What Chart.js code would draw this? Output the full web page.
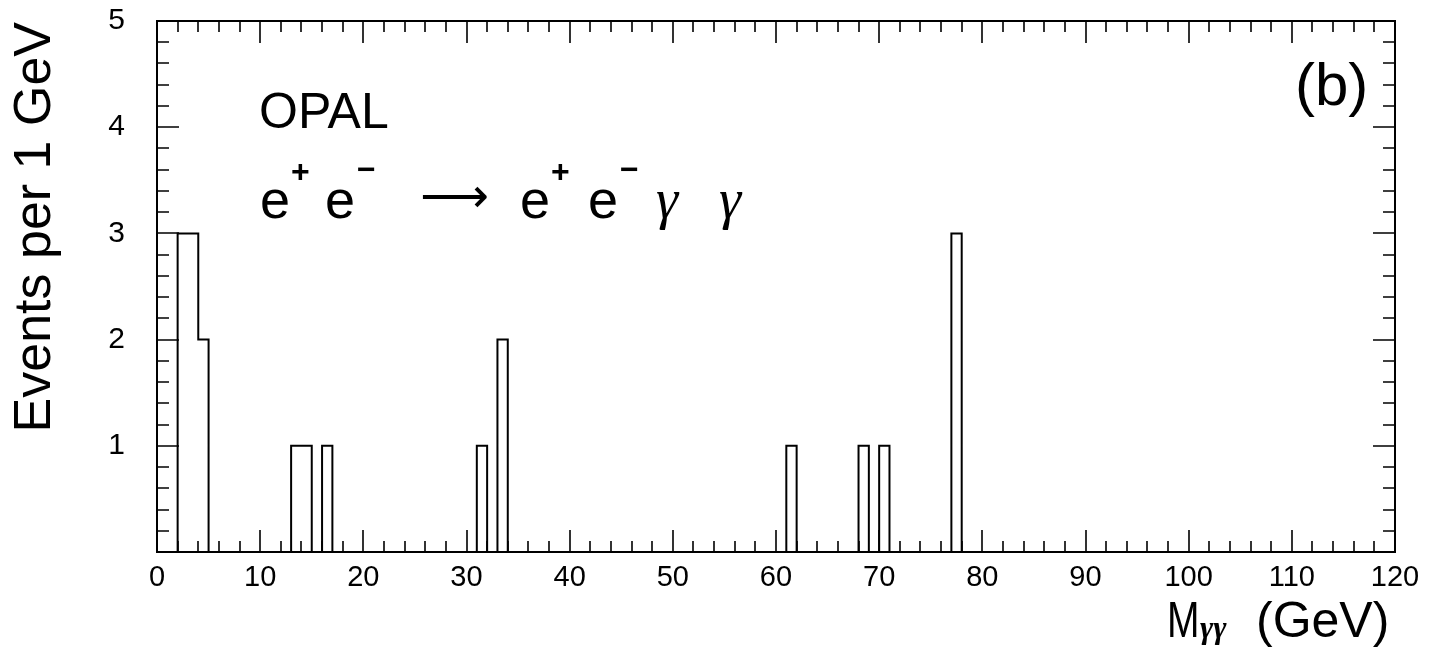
<!DOCTYPE html>
<html>
<head>
<meta charset="utf-8">
<script src="https://cdn.jsdelivr.net/npm/chart.js@4.4.1/dist/chart.umd.min.js"></script>
<style>
  html, body { margin: 0; background: #fff; }
  #wrap { width: 1444px; height: 656px; }
</style>
</head>
<body>
<div id="wrap"><canvas id="chart"></canvas></div>
<script>
// filled 1 GeV bins (lower edge) and the events in each
const binLow = [2, 3, 4, 13, 14, 16, 31, 33, 61, 68, 70, 77]
const events = [3, 3, 2, 1, 1, 1, 1, 2, 1, 1, 1, 3]

const xTicks = [0, 10, 20, 30, 40, 50, 60, 70, 80, 90, 100, 110, 120]
const yTicks = [1, 2, 3, 4, 5]
const xMinorStep = 2
const yMinorStep = 0.2

const X_MAX = 120
const SANS = '"Liberation Sans", Arial, Helvetica, sans-serif'
const SERIF = '"Liberation Serif", "Times New Roman", serif'

// histogram outline as a stepped line, one point per bin edge
const counts = {}
binLow.forEach((b, i) => { counts[b] = events[i] })
const outline = []
for (let b = 0; b < X_MAX; b++) outline.push({ x: b, y: counts[b] || 0 })
outline.push({ x: X_MAX, y: 0 })

const frameTicks = {
  id: 'frameTicks',
  afterDatasetsDraw(chart) {
    const { ctx, chartArea: a, scales: { x, y } } = chart
    ctx.save()
    ctx.strokeStyle = '#000'
    ctx.lineWidth = 2
    ctx.strokeRect(a.left, a.top, a.right - a.left, a.bottom - a.top)

    ctx.beginPath()
    for (let v = 0; v <= X_MAX + 1e-6; v += xMinorStep) {
      const px = Math.round(x.getPixelForValue(v))
      const len = xTicks.includes(Math.round(v)) ? 22 : 11
      ctx.moveTo(px, a.bottom); ctx.lineTo(px, a.bottom - len)
      ctx.moveTo(px, a.top); ctx.lineTo(px, a.top + len)
    }
    for (let v = 0; v <= 5 + 1e-6; v += yMinorStep) {
      const py = Math.round(y.getPixelForValue(v))
      const major = Math.abs(v - Math.round(v)) < 1e-6
      const len = major ? 22 : 12
      ctx.moveTo(a.left, py); ctx.lineTo(a.left + len, py)
      ctx.moveTo(a.right, py); ctx.lineTo(a.right - len, py)
    }
    ctx.lineWidth = 1.6
    ctx.stroke()
    ctx.restore()
  }
}

const labels = {
  id: 'labels',
  afterDraw(chart) {
    const { ctx, chartArea: a } = chart
    ctx.save()
    ctx.fillStyle = '#000'
    ctx.textBaseline = 'alphabetic'

    // y title, reading upward from the top of the frame
    ctx.save()
    ctx.translate(50, a.top + 1)
    ctx.rotate(-Math.PI / 2)
    ctx.textAlign = 'right'
    ctx.font = '52px ' + SANS
    ctx.fillText('Events per 1 GeV', 0, 0)
    ctx.restore()

    ctx.textAlign = 'left'
    ctx.font = '50px ' + SANS
    ctx.fillText('OPAL', 259, 128)

    ctx.font = '60px ' + SANS
    ctx.fillText('(b)', 1295, 105)

    // e+ e- -> e+ e- gamma gamma
    const eFont = '54px ' + SANS
    const supFont = 'bold 32px ' + SANS
    const base = 218
    const part = (txt, x, font, yb) => { ctx.font = font; ctx.fillText(txt, x, yb) }
    part('e', 260, eFont, base)
    part('+', 291, supFont, 182)
    part('e', 325, eFont, base)
    part('\u2212', 357, supFont, 180)
    part('e', 520, eFont, base)
    part('+', 551, supFont, 182)
    part('e', 588, eFont, base)
    part('\u2212', 620, supFont, 180)
    part('\u03b3', 656, 'italic 56px ' + SERIF, base)
    part('\u03b3', 719, 'italic 56px ' + SERIF, base)

    // arrow fitted to its span
    ctx.save()
    ctx.font = '48px "DejaVu Sans", sans-serif'
    const m = ctx.measureText('\u27f6')
    const w = m.actualBoundingBoxRight + m.actualBoundingBoxLeft
    const mid = (m.actualBoundingBoxAscent - m.actualBoundingBoxDescent) / 2
    ctx.translate(422, 197 + mid)
    ctx.scale(65 / w, 1)
    ctx.fillText('\u27f6', m.actualBoundingBoxLeft, 0)
    ctx.restore()

    // x title
    ctx.font = '50px ' + SANS
    ctx.save()
    ctx.translate(1167, 637)
    ctx.scale(0.78, 1)
    ctx.fillText('M', 0, 0)
    ctx.restore()
    ctx.font = 'italic bold 32px ' + SERIF
    ctx.fillText('\u03b3\u03b3', 1200, 638)
    ctx.font = '50px ' + SANS
    ctx.fillText('(GeV)', 1256, 637)

    ctx.restore()
  }
}

new Chart(document.getElementById('chart'), {
  type: 'line',
  data: {
    datasets: [{
      data: outline,
      stepped: true,
      borderColor: '#000',
      borderWidth: 2,
      pointRadius: 0,
      fill: false,
      tension: 0,
    }]
  },
  options: {
    responsive: true,
    maintainAspectRatio: false,
    devicePixelRatio: 1,
    animation: false,
    layout: { padding: { top: 21, right: 49, left: 0, bottom: 0 } },
    scales: {
      x: {
        type: 'linear',
        min: 0,
        max: X_MAX,
        afterBuildTicks: s => { s.ticks = xTicks.map(v => ({ value: v })) },
        afterFit: s => { s.height = 104; s.paddingLeft = 0; s.paddingRight = 0 },
        ticks: {
          color: '#000',
          font: { family: SANS, size: 29 },
          padding: 9,
          maxRotation: 0,
          autoSkip: false,
        },
        grid: { display: false, drawTicks: false },
        border: { display: false },
      },
      y: {
        type: 'linear',
        min: 0,
        max: 5,
        afterBuildTicks: s => { s.ticks = yTicks.map(v => ({ value: v })) },
        afterFit: s => { s.width = 157; s.paddingTop = 0; s.paddingBottom = 0 },
        ticks: {
          color: '#000',
          font: { family: SANS, size: 30 },
          padding: 32,
        },
        grid: { display: false, drawTicks: false },
        border: { display: false },
      },
    },
    plugins: {
      legend: { display: false },
      tooltip: { enabled: false },
    },
  },
  plugins: [frameTicks, labels],
})
</script>
</body>
</html>
